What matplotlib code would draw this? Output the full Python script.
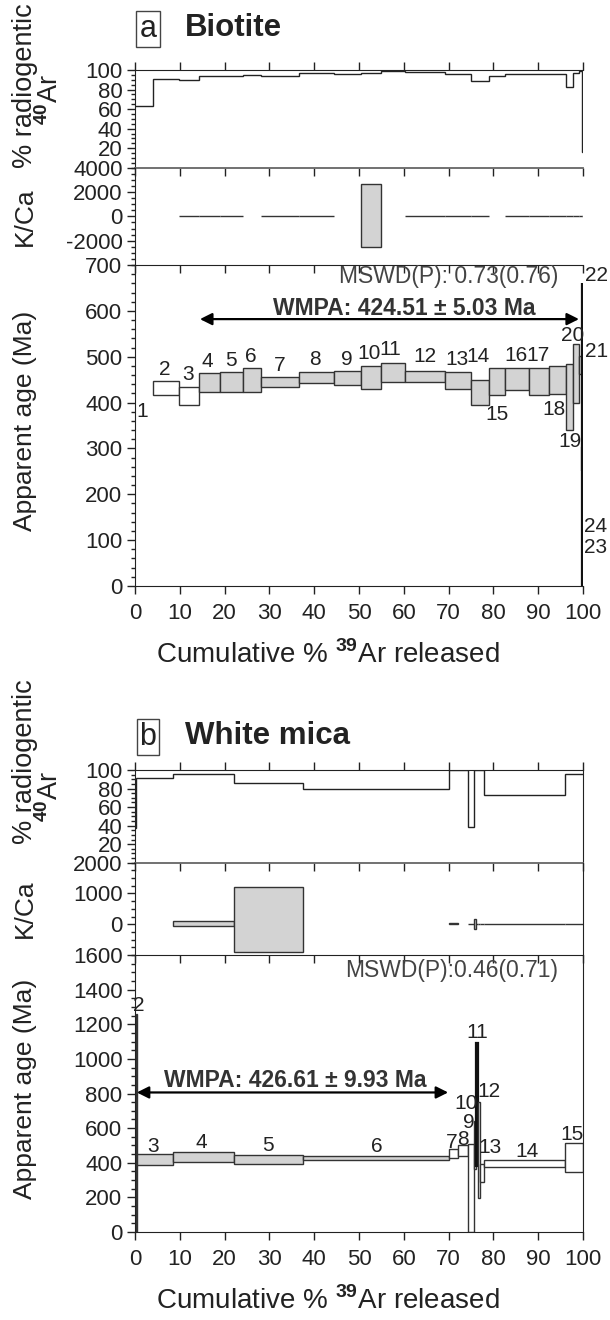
import matplotlib
matplotlib.use("Agg")
from matplotlib import pyplot as plt
from matplotlib.patches import Rectangle
from matplotlib.ticker import MultipleLocator, FixedLocator

plt.rcParams['font.family'] = ['Liberation Sans', 'DejaVu Sans']
plt.rcParams['mathtext.fontset'] = 'custom'
plt.rcParams['mathtext.rm'] = 'Liberation Sans'
plt.rcParams['mathtext.bf'] = 'Liberation Sans:bold'
plt.rcParams['axes.unicode_minus'] = False
plt.rcParams['text.color'] = '#222222'
plt.rcParams['xtick.color'] = '#222222'
plt.rcParams['ytick.color'] = '#222222'

NAN = float('nan')

# ---------------- (a) biotite ----------------
bt_edges = [0, 4.1, 9.9, 14.3, 19.0, 24.0, 28.1, 36.7, 44.4, 50.4, 54.8, 60.3, 69.1,
            75.0, 79.1, 82.7, 87.9, 92.3, 96.2, 97.7, 99.2, 99.75, 99.85, 99.93, 100]
bt_radiogenic = [63, 91, 90, 94, 94, 95, 94, 97, 96, 97, 99, 98,
                 96, 89, 94, 96, 96, 96, 83, 97, 99, 16, 16, 16]
bt_kca = [NAN, NAN, 20, 20, 20, NAN, 20, 20, NAN, 40, NAN, 20,
          20, 20, NAN, 20, 20, 20, 20, 20, 20, 20, 20, 20]
bt_kca_err = [0, 0, 10, 10, 10, 0, 10, 10, 0, 2600, 0, 10,
              10, 10, 0, 10, 10, 10, 10, 10, 10, 10, 10, 10]
bt_age_lo = [NAN, 416, 395, 422, 424, 424, 435, 442, 439, 430, 444, 444,
             429, 395, 416, 427, 416, 418, 340, 398, 462, 250, 0, 0]
bt_age_hi = [NAN, 446, 435, 465, 467, 476, 456, 467, 469, 480, 486, 469,
             467, 449, 476, 476, 476, 480, 484, 528, 502, 661, 300, 250]
bt_plateau = list(range(4, 22))  # steps used in the plateau (grey)
bt_dark = [22, 23, 24]           # last, tiny steps drawn as a heavy line
bt_wmpa = "WMPA: 424.51 ± 5.03 Ma"
bt_mswd = "MSWD(P): 0.73(0.76)"

# ---------------- (b) white mica ----------------
wm_edges = [0, 0.2, 0.5, 8.5, 22.2, 37.6, 70.1, 72.1, 74.4, 75.7, 76.1, 76.5,
            77.0, 77.8, 96.0, 100]
wm_radiogenic = [37, 91, 91, 96, 86, 80, 100, 100, 39, 100, 100, 100, 100, 73, 96]
wm_kca = [NAN, NAN, NAN, 33, 163, NAN, 15, NAN, 5, 22, 5, 5, 5, 0, 10]
wm_kca_err = [0, 0, 0, 76, 1054, 0, 12, 0, 4, 163, 4, 4, 4, 3, 12]
wm_age_lo = [NAN, 0, 385, 406, 394, 417, 429, 438, 0, 362, 380, 198, 290, 378, 348]
wm_age_hi = [NAN, 1257, 448, 463, 446, 440, 477, 500, 508, 640, 1092, 752, 395, 414, 512]
wm_plateau = [3, 4, 5, 6]
wm_dark = [11]
wm_wmpa = "WMPA: 426.61 ± 9.93 Ma"
wm_mswd = "MSWD(P):0.46(0.71)"

# step label anchors (x %, age Ma)
bt_lab_x = [1.7, 6.7, 11.9, 16.2, 21.4, 25.9, 32.4, 40.2, 47.3, 52.3, 57.0, 64.7,
            71.8, 76.6, 80.7, 85.0, 90.0, 93.5, 97.1, 97.7, 103.1, 103.1, 102.9, 102.9]
bt_lab_age = [381, 473, 462, 489, 491, 500, 481, 495, 495, 508, 515, 500,
              495, 500, 374, 502, 502, 384, 316, 547, 511, 678, 83, 129]
wm_lab_x = [NAN, 0.9, 4.0, 14.9, 29.6, 53.9, 70.8, 73.1, 74.6, 73.9, 76.5, 78.9,
            79.2, 87.4, 97.5]
wm_lab_age = [NAN, 1310, 496, 515, 500, 496, 519, 535, 631, 741, 1150, 811,
              490, 467, 566]

W, H = 610, 1320
fig = plt.figure(figsize=(W / 100, H / 100), dpi=100)

TICK_FS = 16
LAB_FS = 18.5
RAD_FS = 19.5


def axes_px(top, bottom, right_spine):
    ax = fig.add_axes([135 / W, 1 - bottom / H, 448 / W, (bottom - top) / H])
    ax.set_facecolor('none')
    ax.set_xlim(0, 100)
    ax.xaxis.set_major_locator(MultipleLocator(10))
    ax.tick_params(axis='both', which='major', length=6, width=1, labelsize=TICK_FS, pad=3)
    ax.tick_params(axis='y', which='minor', length=3, width=1)
    ax.tick_params(axis='x', direction='out', labelbottom=False)
    ax.spines['right'].set_visible(right_spine)
    for s in ax.spines.values():
        s.set_color('#222222')
    return ax


def draw_boxes(ax, edges, lo, hi, plateau, dark):
    for i in range(len(lo)):
        if lo[i] != lo[i]:
            continue
        step = i + 1
        if step in dark:
            fc, ec, lw = '#111111', '#111111', 1.6
        elif step in plateau:
            fc, ec, lw = '#d3d3d3', '#333333', 1
        else:
            fc, ec, lw = 'white', '#333333', 1
        ax.add_patch(Rectangle((edges[i], lo[i]), edges[i + 1] - edges[i], hi[i] - lo[i],
                               facecolor=fc, edgecolor=ec, lw=lw))


def panel(top, letter, name, rad_top, kca_top, age_top, age_bot, right_spine,
          edges, rad, kca, kca_err, lo, hi, plateau, dark,
          kca_lim, kca_ticks, kca_minor, age_max, age_step, age_minor,
          lab_x, lab_age, wmpa, wmpa_x, wmpa_age, wmpa_txt, mswd, mswd_age,
          rad_lab_y, rad_sup_y):
    # title
    fig.text(148 / W, 1 - (top + 29) / H, letter, ha='center', va='center', fontsize=22,
             bbox=dict(boxstyle='square,pad=0.1', fc='none', ec='#444444', lw=1))
    fig.text(185 / W, 1 - (top + 28) / H, name, ha='left', va='center', fontsize=22.5,
             fontweight='bold')

    # % radiogenic 40Ar
    ax1 = axes_px(rad_top, kca_top, right_spine)
    ax1.stairs(rad, edges, baseline=None, color='#222222', lw=1)
    ax1.set_ylim(0, 100)
    ax1.yaxis.set_major_locator(FixedLocator([20, 40, 60, 80, 100]))
    ax1.yaxis.set_minor_locator(MultipleLocator(5))
    ax1.tick_params(axis='x', top=True, bottom=True)
    ax1.spines['bottom'].set_color('#666666')
    ax1.spines['bottom'].set_linewidth(1.3)

    # K/Ca
    ax2 = axes_px(kca_top, age_top, right_spine)
    for i in range(len(kca)):
        if kca[i] != kca[i]:
            continue
        ax2.add_patch(Rectangle((edges[i], kca[i] - kca_err[i]), edges[i + 1] - edges[i],
                                2 * kca_err[i], facecolor='#d3d3d3', edgecolor='#333333', lw=1))
    ax2.set_ylim(*kca_lim)
    ax2.yaxis.set_major_locator(FixedLocator(kca_ticks))
    ax2.yaxis.set_minor_locator(MultipleLocator(kca_minor))
    ax2.spines['top'].set_visible(False)

    # apparent age
    ax3 = axes_px(age_top, age_bot, right_spine)
    draw_boxes(ax3, edges, lo, hi, plateau, dark)
    ax3.set_ylim(0, age_max)
    ax3.yaxis.set_major_locator(MultipleLocator(age_step))
    ax3.yaxis.set_minor_locator(MultipleLocator(age_minor))
    ax3.tick_params(axis='x', labelbottom=True, pad=6)
    ax3.spines['top'].set_visible(False)
    for i in range(len(lab_x)):
        if lab_x[i] != lab_x[i]:
            continue
        ax3.text(lab_x[i], lab_age[i], str(i + 1), ha='center', va='center',
                 fontsize=15, clip_on=False)
    ax3.annotate('', xy=(wmpa_x[1], wmpa_age), xytext=(wmpa_x[0], wmpa_age),
                 arrowprops=dict(arrowstyle='<|-|>', color='black', lw=1.6,
                                 mutation_scale=18, shrinkA=0, shrinkB=0))
    ax3.text(wmpa_txt[0], wmpa_txt[1], wmpa, ha='center', va='center', fontsize=16.5,
             fontweight='bold', color='#333333')
    ax3.text(94.5, mswd_age, mswd, ha='right', va='center', fontsize=16.5, color='#444444')

    # axis titles
    fig.text(25 / W, 1 - rad_lab_y / H, '% radiogentic', rotation=90,
             ha='center', va='center', fontsize=RAD_FS)
    fig.text(50 / W, 1 - rad_sup_y / H, r'$^{\mathbf{40}}$Ar', rotation=90,
             ha='center', va='center', fontsize=RAD_FS)
    fig.text(25 / W, 1 - (kca_top + age_top) / 2 / H, 'K/Ca', rotation=90,
             ha='center', va='center', fontsize=LAB_FS + 0.5)
    fig.text(25 / W, 1 - ((age_top + age_bot) / 2 - 5) / H, 'Apparent age (Ma)', rotation=90,
             ha='center', va='center', fontsize=LAB_FS + 0.5)
    fig.text(328 / W, 1 - (age_bot + 69) / H, r'Cumulative % $^{\mathbf{39}}$Ar released',
             ha='center', va='center', fontsize=20)
    return ax3


panel(0, 'a', 'Biotite', 70, 167.7, 265, 586, False,
      bt_edges, bt_radiogenic, bt_kca, bt_kca_err, bt_age_lo, bt_age_hi, bt_plateau, bt_dark,
      (-4000, 4000), [-2000, 0, 2000, 4000], 500, 700, 100, 20,
      bt_lab_x, bt_lab_age, bt_wmpa, (14.5, 99.1), 582, (60.0, 606), bt_mswd, 676,
      86, 100)

panel(708, 'b', 'White mica', 770, 862.7, 955, 1232, True,
      wm_edges, wm_radiogenic, wm_kca, wm_kca_err, wm_age_lo, wm_age_hi, wm_plateau, wm_dark,
      (-1000, 2000), [0, 1000, 2000], 250, 1600, 200, 50,
      wm_lab_x, wm_lab_age, wm_wmpa, (0.4, 69.9), 806, (35.7, 877), wm_mswd, 1512,
      762, 797)

plt.savefig("out.png", dpi=100)
